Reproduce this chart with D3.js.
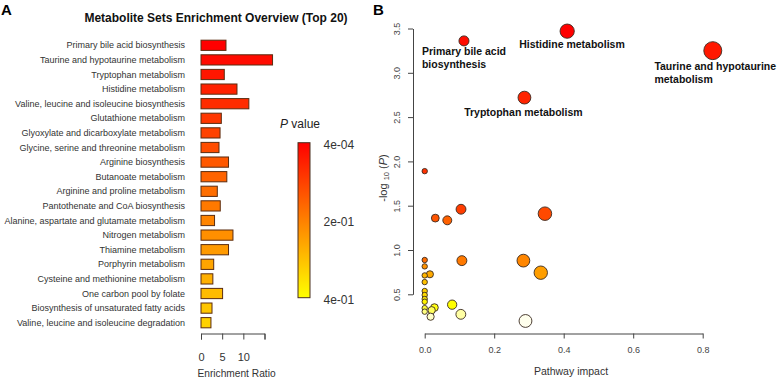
<!DOCTYPE html>
<html>
<head>
<meta charset="utf-8">
<script src="https://cdn.jsdelivr.net/npm/d3@7"></script>
<style>
  body { margin: 0; background: #fff; }
  svg { font-family: Arial, "Liberation Sans", sans-serif; display: block; }
</style>
</head>
<body>
<div id="chart"></div>
<script>
// panel A data: top 20 metabolite sets (ordered by P value)
const setNames = [
  "Primary bile acid biosynthesis",
  "Taurine and hypotaurine metabolism",
  "Tryptophan metabolism",
  "Histidine metabolism",
  "Valine, leucine and isoleucine biosynthesis",
  "Glutathione metabolism",
  "Glyoxylate and dicarboxylate metabolism",
  "Glycine, serine and threonine metabolism",
  "Arginine biosynthesis",
  "Butanoate metabolism",
  "Arginine and proline metabolism",
  "Pantothenate and CoA biosynthesis",
  "Alanine, aspartate and glutamate metabolism",
  "Nitrogen metabolism",
  "Thiamine metabolism",
  "Porphyrin metabolism",
  "Cysteine and methionine metabolism",
  "One carbon pool by folate",
  "Biosynthesis of unsaturated fatty acids",
  "Valine, leucine and isoleucine degradation"
];
const enrichRatio = [5.9, 16.9, 5.5, 8.5, 11.3, 4.8, 4.5, 4.25, 6.5, 6.1,
                     3.85, 4.55, 3.2, 7.55, 6.5, 3.0, 2.8, 5.1, 2.6, 2.35];
const ratioTicks = [0, 5, 10, 15];
const pLegendTicks = [0.0004, 0.2, 0.4];
const pLegendLabels = ["4e-04", "2e-01", "4e-01"];

// panel B data: pathway impact vs -log10(P), sorted by P
const impact = [0.41, 0.113, 0.829, 0.287, 0, 0.1045, 0.346, 0.0305, 0.065, 0,
                0.107, 0.284, 0, 0.334, 0.015, 0, 0, 0, 0, 0,
                0, 0.079, 0.028, 0, 0.02, 0, 0.104, 0.017, 0.29];
const negLogP = [3.47, 3.36, 3.25, 2.72, 1.89, 1.46, 1.41, 1.36, 1.335, 0.887,
                 0.88, 0.88, 0.815, 0.744, 0.726, 0.713, 0.638, 0.537, 0.492, 0.447,
                 0.416, 0.383, 0.35, 0.344, 0.32, 0.304, 0.274, 0.247, 0.199];
const impactTicks = [0, 0.2, 0.4, 0.6, 0.8];
const logpTicks = [0.5, 1.0, 1.5, 2.0, 2.5, 3.0, 3.5];
// labelled pathways: index into the arrays above
const pathLabels = [
  {i: 1, lines: ["Primary bile acid", "biosynthesis"], dx: -42, dy: 14.5},
  {i: 0, lines: ["Histidine metabolism"], dx: -48, dy: 17.2},
  {i: 2, lines: ["Taurine and hypotaurine", "metabolism"], dx: -58.4, dy: 19.3},
  {i: 3, lines: ["Tryptophan metabolism"], dx: -60.3, dy: 18.1}
];

const W = 777, H = 379;
const svg = d3.select("#chart").append("svg")
  .attr("width", W).attr("height", H);

// R-like heat.colors(n)
function heatColors(n) {
  const j = Math.floor(n / 4), i = n - j, out = [];
  for (let k = 0; k < i; k++) {
    const h = (i > 1 ? k / (i - 1) : 0) * 60;
    out.push(d3.rgb(255, Math.round(255 * h / 60), 0).formatHex());
  }
  for (let k = 0; k < j; k++) {
    const s = j > 1 ? (1 - 1 / (2 * j)) - k * ((1 - 1 / j) / (j - 1)) : 0.5;
    out.push(d3.rgb(255, 255, Math.round(255 * (1 - s))).formatHex());
  }
  return out;
}

// ---------- panel A ----------
svg.append("text").attr("x", 1).attr("y", 15)
  .attr("font-size", 15).attr("font-weight", "bold").text("A");

svg.append("text").attr("x", 216).attr("y", 22)
  .attr("text-anchor", "middle").attr("font-size", 12).attr("font-weight", "bold")
  .attr("fill", "#111")
  .text("Metabolite Sets Enrichment Overview (Top 20)");

const xr = d3.scaleLinear().domain([0, 15]).range([201, 264.5]);
const yb = d3.scaleBand().domain(setNames).range([35.8, 332.2]).padding(0.3);
const barColor = i => d3.interpolateRgb("#ff0000", "#ffff00")(i / (setNames.length - 1) * 0.82);

svg.append("g").selectAll("rect")
  .data(setNames)
  .enter().append("rect")
  .attr("x", xr(0))
  .attr("y", d => yb(d))
  .attr("width", (d, i) => xr(enrichRatio[i]) - xr(0))
  .attr("height", yb.bandwidth())
  .attr("fill", (d, i) => barColor(i))
  .attr("stroke", "#5b2c10")
  .attr("stroke-width", 1);

svg.append("g").selectAll("text")
  .data(setNames)
  .enter().append("text")
  .attr("x", 185)
  .attr("y", d => yb(d) + yb.bandwidth() / 2)
  .attr("dy", "0.35em")
  .attr("text-anchor", "end")
  .attr("font-size", 9)
  .attr("fill", "#333")
  .text(d => d);

const axA = svg.append("g")
  .attr("transform", "translate(0,333.5)")
  .call(d3.axisBottom(xr).tickValues(ratioTicks).tickSize(6).tickPadding(14)
    .tickFormat(d => d === 15 ? "" : d));
axA.selectAll("path, line").attr("stroke", "#444");
axA.selectAll("text").attr("font-size", 11).attr("fill", "#333")
  .attr("font-family", "Arial, 'Liberation Sans', sans-serif");

svg.append("text").attr("x", 236.5).attr("y", 377)
  .attr("text-anchor", "middle").attr("font-size", 10.2).attr("fill", "#333")
  .text("Enrichment Ratio");

// P value colour key
const defs = svg.append("defs");
const grad = defs.append("linearGradient").attr("id", "pgrad")
  .attr("x1", 0).attr("y1", 0).attr("x2", 0).attr("y2", 1);
grad.append("stop").attr("offset", "0%").attr("stop-color", "#ff0000");
grad.append("stop").attr("offset", "50%").attr("stop-color", "#ff8000");
grad.append("stop").attr("offset", "100%").attr("stop-color", "#ffff00");

const pk = d3.scaleLinear().domain([0.0004, 0.4]).range([142.7, 297.7]);
const pt = svg.append("text").attr("x", 280).attr("y", 127.5)
  .attr("font-size", 12).attr("fill", "#222");
pt.append("tspan").attr("font-style", "italic").text("P");
pt.append("tspan").text(" value");

svg.append("rect")
  .attr("x", 298).attr("y", pk(0.0004))
  .attr("width", 12).attr("height", pk(0.4) - pk(0.0004))
  .attr("fill", "url(#pgrad)").attr("stroke", "#4a3020").attr("stroke-width", 1);

svg.append("g").selectAll("text")
  .data(pLegendTicks)
  .enter().append("text")
  .attr("x", 323.5)
  .attr("y", d => pk(d) + 2)
  .attr("dy", "0.35em")
  .attr("font-size", 12).attr("fill", "#333")
  .text((d, i) => pLegendLabels[i]);

// ---------- panel B ----------
svg.append("text").attr("x", 373).attr("y", 15)
  .attr("font-size", 15).attr("font-weight", "bold").text("B");

const x = d3.scaleLinear().domain([0, 0.8]).range([424.7, 702.7]);
const y = d3.scaleLinear().domain([0.5, 3.5]).range([294.3, 28.5]);
const r = d3.scaleSqrt().domain([0, 0.83]).range([2.7, 9]);
const heat = heatColors(impact.length);

const axX = svg.append("g")
  .attr("transform", "translate(0,333.5)")
  .call(d3.axisBottom(x).tickValues(impactTicks).tickSize(5).tickSizeOuter(0).tickPadding(8)
    .tickFormat(d3.format(".1f")));
axX.selectAll("path, line").attr("stroke", "#444");
axX.selectAll("text").attr("font-size", 9).attr("fill", "#444")
  .attr("font-family", "Arial, 'Liberation Sans', sans-serif");

const axY = svg.append("g")
  .attr("transform", "translate(413,0)")
  .call(d3.axisLeft(y).tickValues(logpTicks).tickSize(5).tickSizeOuter(0)
    .tickFormat(d3.format(".1f")));
axY.selectAll("path, line").attr("stroke", "#444");
axY.selectAll("text")
  .attr("font-size", 9).attr("fill", "#444")
  .attr("font-family", "Arial, 'Liberation Sans', sans-serif")
  .attr("transform", "rotate(-90)")
  .attr("x", 0).attr("y", -16.3).attr("dy", "0.35em")
  .attr("text-anchor", "middle");

svg.append("text").attr("x", 571).attr("y", 375)
  .attr("text-anchor", "middle").attr("font-size", 10.5).attr("fill", "#333")
  .text("Pathway impact");

const yl = svg.append("text")
  .attr("transform", "translate(387,178) rotate(-90)")
  .attr("text-anchor", "middle").attr("font-size", 11).attr("fill", "#333");
yl.append("tspan").text("-log ");
yl.append("tspan").attr("font-size", 7.5).attr("dy", 2).text("10");
yl.append("tspan").attr("dy", -2).text(" (");
yl.append("tspan").attr("font-style", "italic").text("P");
yl.append("tspan").text(")");

// circles: draw larger first so small ones stay on top
const order = d3.range(impact.length).sort((a, b) => impact[b] - impact[a]);
svg.append("g").selectAll("circle")
  .data(order)
  .enter().append("circle")
  .attr("cx", i => x(impact[i]))
  .attr("cy", i => y(negLogP[i]))
  .attr("r", i => r(impact[i]))
  .attr("fill", i => heat[i])
  .attr("stroke", "#3a2a20")
  .attr("stroke-width", 0.9);

const lab = svg.append("g").selectAll("text")
  .data(pathLabels)
  .enter().append("text")
  .attr("font-size", 10.5).attr("font-weight", "bold").attr("fill", "#111");
lab.each(function(d) {
  const t = d3.select(this);
  d.lines.forEach((ln, k) => {
    t.append("tspan")
      .attr("x", x(impact[d.i]) + d.dx)
      .attr("y", y(negLogP[d.i]) + d.dy + k * 12.6)
      .text(ln);
  });
});
</script>
</body>
</html>
